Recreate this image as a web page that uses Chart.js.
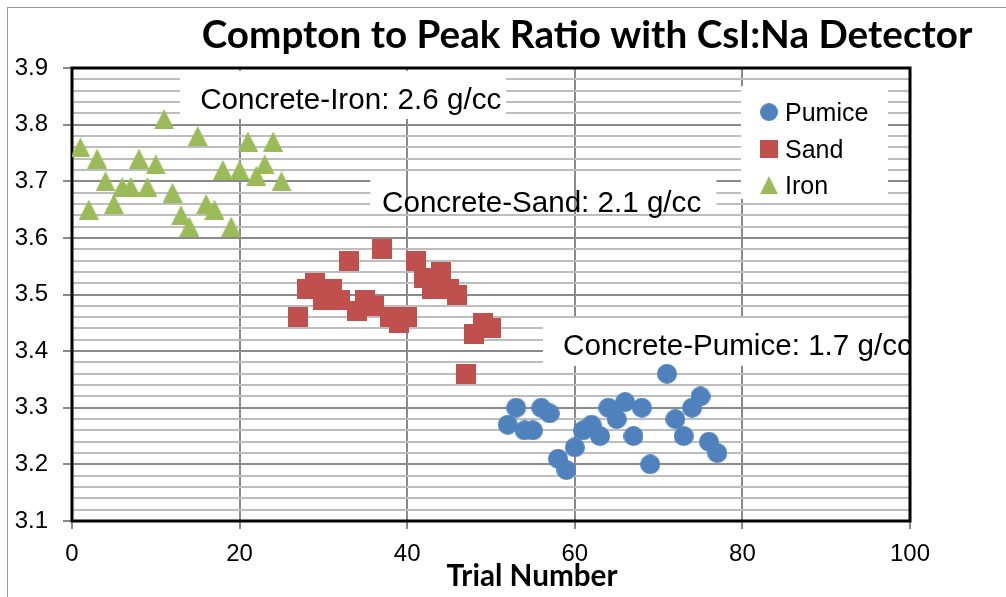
<!DOCTYPE html>
<html lang="en">
<head>
<meta charset="UTF-8">
<title>Compton to Peak Ratio with CsI:Na Detector</title>
<script src="https://cdn.jsdelivr.net/npm/chart.js"></script>
<style>
  body { margin: 0; background: #fff; }
  #wrap { width: 1006px; height: 597px; }
</style>
</head>
<body>
<div id="wrap"><canvas id="ratioChart" width="1006" height="597"></canvas></div>
<script>
// values
const seriesNames = ['Pumice', 'Sand', 'Iron'];

const pumiceTrials = [52, 53, 54, 55, 56, 57, 58, 59, 60, 61, 62, 63, 64, 65, 66, 67, 68, 69, 71, 72, 73, 74, 75, 76, 77];
const pumiceRatio  = [3.27, 3.30, 3.26, 3.26, 3.30, 3.29, 3.21, 3.19, 3.23, 3.26, 3.27, 3.25, 3.30, 3.28, 3.31, 3.25, 3.30, 3.20, 3.36, 3.28, 3.25, 3.30, 3.32, 3.24, 3.22];

const sandTrials = [27, 28, 29, 30, 31, 32, 33, 34, 35, 36, 37, 38, 39, 40, 41, 42, 43, 44, 45, 46, 47, 48, 49, 50];
const sandRatio  = [3.46, 3.51, 3.52, 3.49, 3.51, 3.49, 3.56, 3.47, 3.49, 3.48, 3.58, 3.46, 3.45, 3.46, 3.56, 3.53, 3.51, 3.54, 3.51, 3.50, 3.36, 3.43, 3.45, 3.44];

const ironTrials = [1, 2, 3, 4, 5, 6, 7, 8, 9, 10, 11, 12, 13, 14, 15, 16, 17, 18, 19, 20, 21, 22, 23, 24, 25];
const ironRatio  = [3.76, 3.65, 3.74, 3.70, 3.66, 3.69, 3.69, 3.74, 3.69, 3.73, 3.81, 3.68, 3.64, 3.62, 3.78, 3.66, 3.65, 3.72, 3.62, 3.72, 3.77, 3.71, 3.73, 3.77, 3.70];

const xTicks = [0, 20, 40, 60, 80, 100];
const yTicks = [3.1, 3.2, 3.3, 3.4, 3.5, 3.6, 3.7, 3.8, 3.9];
const noteTexts = ['Concrete-Iron: 2.6 g/cc', 'Concrete-Sand: 2.1 g/cc', 'Concrete-Pumice: 1.7 g/cc'];

const colors = { Pumice: '#4F81BD', Sand: '#C0504D', Iron: '#9BBB59' };

// marker images, centred in their own box like the spreadsheet markers
function makeMarker(kind, color, size) {
    const c = document.createElement('canvas');
    c.width = size; c.height = size;
    const g = c.getContext('2d');
    g.fillStyle = color;
    g.beginPath();
    if (kind === 'circle') {
        g.arc(size / 2, size / 2, size / 2, 0, Math.PI * 2);
    } else if (kind === 'square') {
        g.rect(0, 0, size, size);
    } else {
        g.moveTo(size / 2, 0);
        g.lineTo(size, size);
        g.lineTo(0, size);
        g.closePath();
    }
    g.fill();
    return c;
}

const markers = {
    Pumice: makeMarker('circle', colors.Pumice, 20),
    Sand: makeMarker('square', colors.Sand, 20),
    Iron: makeMarker('triangle', colors.Iron, 20)
};
const legendMarkers = {
    Pumice: makeMarker('circle', colors.Pumice, 18),
    Sand: makeMarker('square', colors.Sand, 18),
    Iron: makeMarker('triangle', colors.Iron, 18)
};

function toPoints(xs, ys) {
    return xs.map((x, i) => ({ x: x, y: ys[i] }));
}

const isMajor = v => Math.abs(v * 10 - Math.round(v * 10)) < 1e-6;

// text boxes, placed in data units
const noteBoxes = [
    { text: noteTexts[0], x0: 12.9, x1: 51.8, y0: 3.895, y1: 3.810, tx: 15.3, ty: 3.827, gridThrough: false },
    { text: noteTexts[1], x0: 35.6, x1: 76.9, y0: 3.713, y1: 3.644, tx: 37.0, ty: 3.646, gridThrough: true },
    { text: noteTexts[2], x0: 56.2, x1: 99.8, y0: 3.4585, y1: 3.374, tx: 58.6, ty: 3.393, gridThrough: false }
];
const legendBox = { x0: 79.83, x1: 97.37, y0: 3.868, y1: 3.669 };

function fitFont(ctx, text, weight, family, width) {
    ctx.font = weight + ' 40px ' + family;
    const w = ctx.measureText(text).width;
    return weight + ' ' + (40 * width / w).toFixed(2) + 'px ' + family;
}

const decorPlugin = {
    id: 'decor',
    beforeDatasetsDraw(chart) {
        const ctx = chart.ctx;
        const xs = chart.scales.x, ys = chart.scales.y;
        const area = chart.chartArea;

        ctx.save();
        ctx.beginPath();
        ctx.rect(area.left, area.top, area.right - area.left, area.bottom - area.top);
        ctx.clip();
        noteBoxes.forEach(b => {
            const l = xs.getPixelForValue(b.x0), r = xs.getPixelForValue(b.x1);
            const t = ys.getPixelForValue(b.y0), btm = ys.getPixelForValue(b.y1);
            ctx.fillStyle = '#fff';
            ctx.fillRect(l, t, r - l, btm - t);
            if (b.gridThrough) {
                ctx.strokeStyle = '#8a8a8a';
                ctx.lineWidth = 2;
                xTicks.forEach(v => {
                    const px = Math.round(xs.getPixelForValue(v));
                    if (px > l && px < r) {
                        ctx.beginPath();
                        ctx.moveTo(px, t);
                        ctx.lineTo(px, btm);
                        ctx.stroke();
                    }
                });
            }
            ctx.fillStyle = '#000';
            ctx.font = '29.6px "Liberation Sans", Arial, sans-serif';
            ctx.textBaseline = 'alphabetic';
            ctx.textAlign = 'left';
            ctx.fillText(b.text, xs.getPixelForValue(b.tx), ys.getPixelForValue(b.ty));
        });

        // legend
        const ll = xs.getPixelForValue(legendBox.x0), lr = xs.getPixelForValue(legendBox.x1);
        const lt = ys.getPixelForValue(legendBox.y0), lb = ys.getPixelForValue(legendBox.y1);
        ctx.fillStyle = '#fff';
        ctx.fillRect(ll, lt, lr - ll, lb - lt);
        ctx.font = '25px "Liberation Sans", Arial, sans-serif';
        ctx.fillStyle = '#000';
        seriesNames.forEach((name, i) => {
            const cy = lt + 26 + i * 36.5;
            const m = legendMarkers[name];
            ctx.drawImage(m, ll + 28 - m.width / 2, cy - m.height / 2);
            ctx.fillText(name, ll + 44, cy + 9);
        });
        ctx.restore();

        // plot frame
        ctx.save();
        ctx.strokeStyle = '#000';
        ctx.lineWidth = 3;
        ctx.strokeRect(area.left, area.top, area.right - area.left, area.bottom - area.top);
        ctx.restore();
    },
    afterDraw(chart) {
        const ctx = chart.ctx;
        ctx.save();
        // outer chart border (only top and left edges fall inside the picture)
        ctx.strokeStyle = '#9a9a9a';
        ctx.lineWidth = 1;
        ctx.strokeRect(7.5, 7.5, 1020, 620);

        ctx.fillStyle = '#000';
        ctx.textAlign = 'center';
        ctx.textBaseline = 'alphabetic';
        const title = 'Compton to Peak Ratio with CsI:Na Detector';
        ctx.font = fitFont(ctx, title, 'bold', 'Lato, "Open Sans", sans-serif', 771);
        ctx.fillText(title, 587, 48);

        const axisTitle = 'Trial Number';
        ctx.font = fitFont(ctx, axisTitle, 'bold', 'Lato, "Open Sans", sans-serif', 171);
        ctx.fillText(axisTitle, 532, 586);
        ctx.restore();
    }
};

const ctx = document.getElementById('ratioChart').getContext('2d');
const ratioChart = new Chart(ctx, {
    type: 'scatter',
    data: {
        datasets: [
            { label: seriesNames[0], data: toPoints(pumiceTrials, pumiceRatio), pointStyle: markers.Pumice, pointRadius: 10, backgroundColor: colors.Pumice },
            { label: seriesNames[1], data: toPoints(sandTrials, sandRatio), pointStyle: markers.Sand, pointRadius: 10, backgroundColor: colors.Sand },
            { label: seriesNames[2], data: toPoints(ironTrials, ironRatio), pointStyle: markers.Iron, pointRadius: 10, backgroundColor: colors.Iron }
        ]
    },
    options: {
        responsive: false,
        animation: false,
        devicePixelRatio: 1,
        layout: { padding: { top: 68, right: 96, bottom: 0, left: 0 } },
        plugins: {
            legend: { display: false },
            title: { display: false },
            tooltip: { enabled: false }
        },
        scales: {
            x: {
                type: 'linear',
                min: 0,
                max: 100,
                afterBuildTicks: scale => { scale.ticks = xTicks.map(v => ({ value: v })); },
                afterFit: scale => { scale.height = 76; },
                border: { display: false },
                grid: { color: '#8a8a8a', lineWidth: 2, tickLength: 8, tickColor: '#8a8a8a' },
                ticks: {
                    padding: 11,
                    color: '#000',
                    font: { family: '"Liberation Sans", Arial, sans-serif', size: 24 },
                    maxRotation: 0,
                    callback: v => String(v)
                }
            },
            y: {
                type: 'linear',
                min: 3.1,
                max: 3.9,
                afterBuildTicks: scale => {
                    const t = [];
                    for (let i = 0; i <= 40; i++) t.push({ value: Math.round((3.1 + i * 0.02) * 100) / 100 });
                    scale.ticks = t;
                },
                afterFit: scale => { scale.width = 72; },
                border: { display: false },
                grid: {
                    color: c => isMajor(c.tick.value) ? '#8a8a8a' : '#bdbdbd',
                    lineWidth: 2,
                    tickLength: 9,
                    tickColor: c => isMajor(c.tick.value) ? '#8a8a8a' : 'rgba(0,0,0,0)'
                },
                ticks: {
                    autoSkip: false,
                    padding: 15,
                    color: '#000',
                    font: { family: '"Liberation Sans", Arial, sans-serif', size: 24 },
                    callback: v => (yTicks.some(t => Math.abs(t - v) < 1e-6) ? v.toFixed(1) : '')
                }
            }
        }
    },
    plugins: [decorPlugin]
});
</script>
</body>
</html>
